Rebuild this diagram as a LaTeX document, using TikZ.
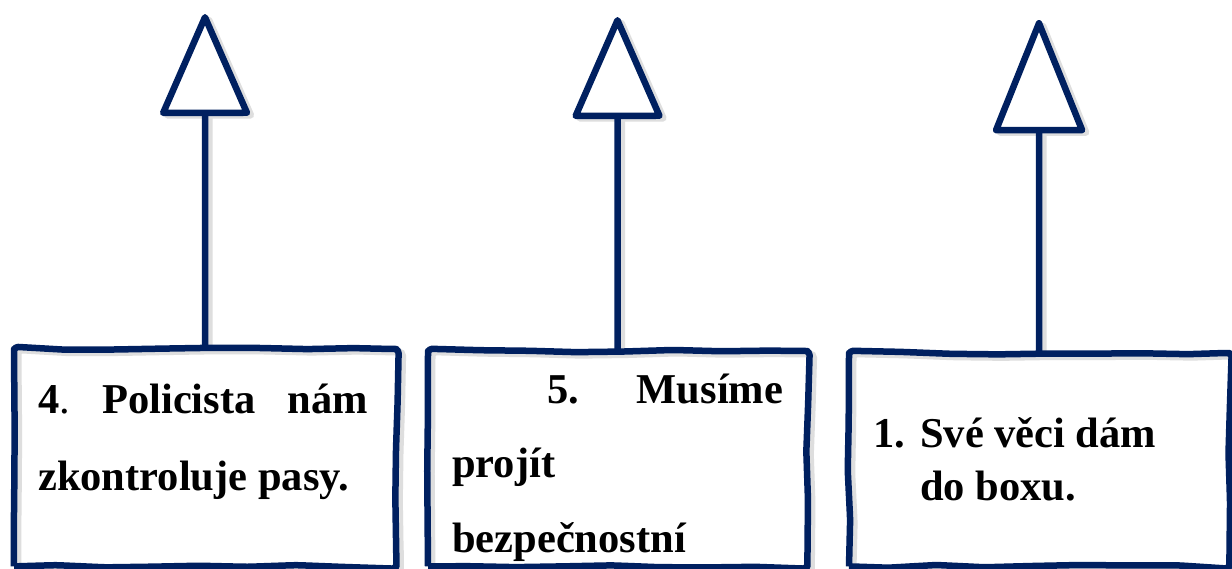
\documentclass[tikz,border=0pt]{standalone}
\usepackage{fontspec}
\setmainfont{Liberation Serif}
\usetikzlibrary{arrows.meta,decorations.pathmorphing}
\definecolor{navy}{RGB}{0,32,96}
\begin{document}
\begin{tikzpicture}[x=1pt,y=-1pt,
  boxarea/.style={draw=none, fill=white, inner sep=0pt, anchor=north west},
  sketch/.style={draw=navy, line width=6.5pt, line join=round,
    decorate, decoration={random steps, segment length=48pt, amplitude=1.5pt},
    rounded corners=4pt,
    preaction={draw=black!13, line width=7pt, transform canvas={xshift=4pt, yshift=-3pt}}},
  conn/.style={draw=navy, line width=6.5pt,
    preaction={draw=black!13, line width=7pt, transform canvas={xshift=4pt, yshift=-3pt}}},
  tipA/.style={-{Triangle[open, round, fill=white, length=107pt, width=92pt]}},
  tipB/.style={-{Triangle[open, round, fill=white, length=119pt, width=94pt]}},
  txt/.style={anchor=base west, inner sep=0pt},
]
\useasboundingbox (0,0) rectangle (1232,568);
\pgfmathsetseed{11}
\fill[white] (0,0) rectangle (1232,568);

\begin{scope}
\clip (0,0) rectangle (1232,568);
% boxes
\node[boxarea, minimum width=382pt, minimum height=217pt] (b1) at (14,349) {};
\node[boxarea, minimum width=379pt, minimum height=215pt] (b2) at (428,351) {};
\node[boxarea, minimum width=380pt, minimum height=213pt] (b3) at (849,353) {};

% arrow tips
\coordinate (t1) at (205,14);
\coordinate (t2) at (617.5,17);
\coordinate (t3) at (1039,20);

\draw[conn, tipA] (b1.north) -- (t1);
\draw[conn, tipA] (b2.north) -- (t2);
\draw[conn, tipB] (b3.north) -- (t3);

\draw[sketch] (b1.south west) -- (b1.north west) -- (b1.north east) -- (b1.south east) -- (b1.south west);
\draw[sketch] (b2.south west) -- (b2.north west) -- (b2.north east) -- (b2.south east) -- (b2.south west);
\draw[sketch] (b3.south west) -- (b3.north west) -- (b3.north east) -- (b3.south east) -- (b3.south west);

% texts
\node[txt] (x1) at (38,413) {\parbox[t]{330pt}{\fontsize{42.5}{77}\selectfont\bfseries
  \noindent\makebox[330pt][l]{4\textmd{.}\hfill Policista\hfill nám}\par\noindent zkontroluje pasy.}};
\node[txt] (x2) at (452,403) {\parbox[t]{331pt}{\fontsize{42.5}{74.5}\selectfont\bfseries
  \noindent\makebox[331pt][l]{\hspace*{95pt}5.\hfill Musíme}\par\noindent projít\par\noindent bezpečnostní}};
\node[txt] (x3) at (873,447) {\parbox[t]{340pt}{\fontsize{42.5}{53}\selectfont\bfseries
  \noindent\makebox[47pt][l]{1.}Své věci dám\par\noindent\hspace*{47pt}do boxu.}};
\end{scope}
\end{tikzpicture}
\end{document}
